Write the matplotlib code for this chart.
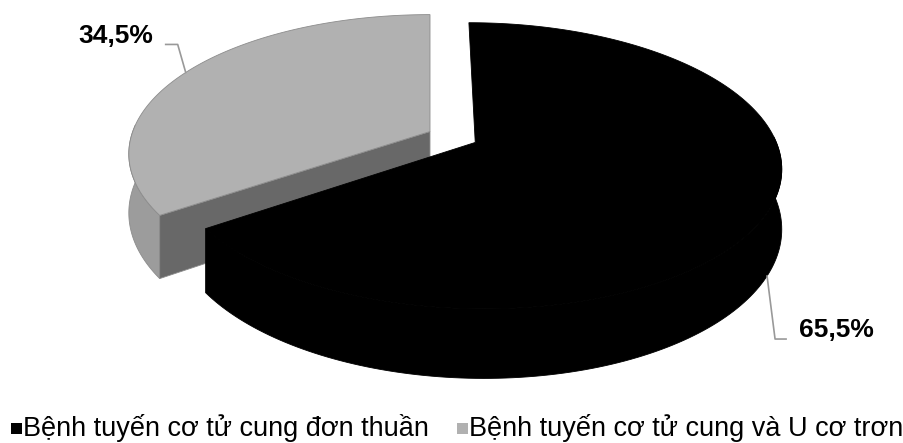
import numpy as np
import matplotlib.pyplot as plt
from matplotlib.patches import Polygon, Rectangle

plt.rcParams['font.family'] = ['Liberation Sans', 'DejaVu Sans']

labels = ['Bệnh tuyến cơ tử cung đơn thuần', 'Bệnh tuyến cơ tử cung và U cơ trơn']
values = [65.5, 34.5]
pct_text = ['65,5%', '34,5%']
explode = [0.17, 0.0]
top_colors = ['#000000', '#b1b1b1']
wall_colors = ['#000000', '#9c9c9c']
cut_colors = ['#000000', '#686868']
edge_colors = ['#000000', '#8c8c8c']

# view settings (3d pie, looking down with perspective in depth only)
sa, ca = 0.48, np.sqrt(1 - 0.48 ** 2)
D = 5.45
KX, KY = 1620, 1646
CX, CY = 430, 189
H = 0.217


def proj(X, Y, Z):
    yc = Z * ca + Y * sa
    d = Y * ca + D
    return CX + KX * X / d, CY - KY * yc / d


fig = plt.figure(figsize=(9.04, 4.43), dpi=100)
ax = fig.add_axes([0, 0, 1, 1])
ax.set_xlim(0, 904)
ax.set_ylim(443, 0)
ax.axis('off')

fr = np.array(values) / sum(values)
# slice 0 starts at 12 o'clock going clockwise, slice 1 fills the rest
spans = [(90 - fr[0] * 360, 90), (90, 90 + fr[1] * 360)]

anchors = []
# draw back slice (gray) first, then the black one
for i in [1, 0]:
    a, b = spans[i]
    mid = np.radians((a + b) / 2)
    ox, oy = explode[i] * np.cos(mid), explode[i] * np.sin(mid)
    th = np.radians(np.linspace(a, b, 200))

    # outer wall, the part facing the viewer
    vis = th[np.sin(th) < 0.05]
    if len(vis) > 1:
        xt, yt = proj(ox + np.cos(vis), oy + np.sin(vis), H)
        xb, yb = proj(ox + np.cos(vis[::-1]), oy + np.sin(vis[::-1]), 0)
        ax.add_patch(Polygon(np.column_stack([np.r_[xt, xb], np.r_[yt, yb]]),
                             closed=True, fc=wall_colors[i], ec=edge_colors[i], lw=0.6))

    # cut faces that face the viewer
    for ang, sign in [(a, -1), (b, 1)]:
        r = np.radians(ang + sign * 90)
        if np.sin(r) >= 0:
            continue
        ca_, sa_ = np.cos(np.radians(ang)), np.sin(np.radians(ang))
        px = np.array([ox, ox + ca_, ox + ca_, ox])
        py = np.array([oy, oy + sa_, oy + sa_, oy])
        pz = np.array([H, H, 0, 0])
        u, v = proj(px, py, pz)
        ax.add_patch(Polygon(np.column_stack([u, v]), closed=True,
                             fc=cut_colors[i], ec=edge_colors[i], lw=0.6))

    # top face
    xt, yt = proj(np.r_[ox, ox + np.cos(th)], np.r_[oy, oy + np.sin(th)], H)
    ax.add_patch(Polygon(np.column_stack([xt, yt]), closed=True,
                         fc=top_colors[i], ec=edge_colors[i], lw=0.6))

    z_anchor = H if i == 1 else 0
    anchors.append((i, proj(ox + np.cos(mid), oy + np.sin(mid), z_anchor)))

# data labels with leader lines
for i, (u, v) in anchors:
    if i == 1:
        ex, ey = u - 8, v - 28
        ax.plot([u, ex, ex - 12], [v, ey, ey], color='#999999', lw=1.2)
        ax.text(ex - 24, ey - 8, pct_text[i], ha='right', va='center',
                fontsize=19, fontweight='bold')
    else:
        ex, ey = u + 8, v + 63
        ax.plot([u, ex, ex + 11], [v, ey, ey], color='#999999', lw=1.2)
        ax.text(ex + 24, ey - 9, pct_text[i], ha='left', va='center',
                fontsize=19, fontweight='bold')

# legend along the bottom
legend_x = [11, 457]
for lx, lab, col in zip(legend_x, labels, top_colors):
    ax.add_patch(Rectangle((lx, 423), 11, 11, fc=col, ec='none'))
    ax.text(lx + 12, 436, lab, ha='left', va='baseline', fontsize=19.5)

fig.savefig('out.png', dpi=100)
